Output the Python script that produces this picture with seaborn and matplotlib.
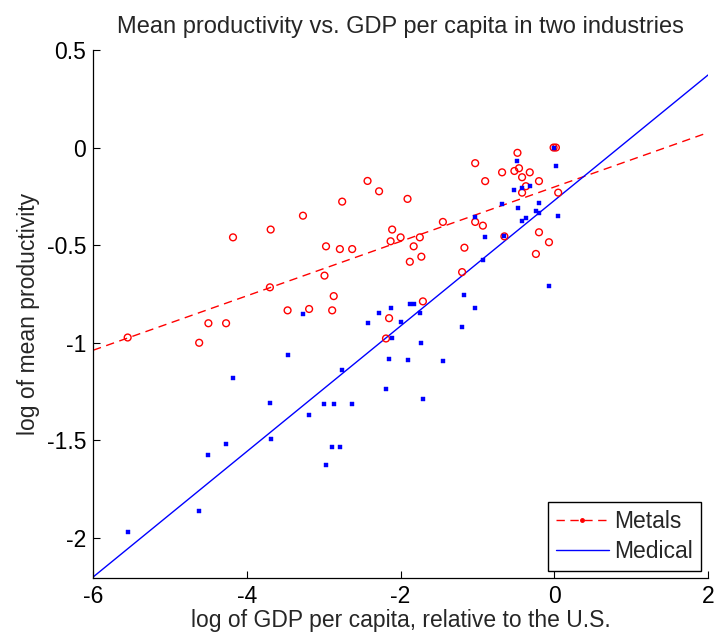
import numpy as np
import pandas as pd
import matplotlib
matplotlib.use("Agg")
import matplotlib.pyplot as plt
from matplotlib.lines import Line2D
import seaborn as sns

# log GDP per capita (relative to the U.S.) and log mean productivity, by industry
metals_x = [-5.55, -4.62, -4.50, -4.27, -4.18, -3.70, -3.69, -3.47, -3.27, -3.19,
            -2.99, -2.97, -2.89, -2.87, -2.79, -2.76, -2.63, -2.43, -2.28, -2.19,
            -2.15, -2.13, -2.11, -2.00, -1.91, -1.88, -1.83, -1.75, -1.73, -1.71,
            -1.45, -1.20, -1.17, -1.03, -1.03, -0.93, -0.90, -0.68, -0.65, -0.52,
            -0.48, -0.46, -0.42, -0.42, -0.37, -0.32, -0.24, -0.20, -0.20, -0.07,
            -0.01, 0.02, 0.05]
metals_y = [-0.973, -1.000, -0.900, -0.900, -0.460, -0.716, -0.420, -0.834, -0.349, -0.827,
            -0.656, -0.506, -0.834, -0.761, -0.520, -0.277, -0.520, -0.171, -0.224, -0.978,
            -0.874, -0.480, -0.420, -0.460, -0.263, -0.585, -0.506, -0.460, -0.559, -0.788,
            -0.381, -0.638, -0.513, -0.080, -0.381, -0.400, -0.172, -0.127, -0.455, -0.120,
            -0.027, -0.106, -0.152, -0.231, -0.198, -0.127, -0.545, -0.172, -0.434, -0.485,
            0.000, 0.000, -0.231]

medical_x = [-5.55, -4.62, -4.50, -4.27, -4.18, -3.70, -3.69, -3.47, -3.27, -3.19,
             -2.99, -2.97, -2.89, -2.87, -2.79, -2.76, -2.63, -2.43, -2.28, -2.19,
             -2.15, -2.13, -2.11, -2.00, -1.91, -1.88, -1.83, -1.75, -1.73, -1.71,
             -1.45, -1.20, -1.17, -1.03, -1.03, -0.93, -0.90, -0.68, -0.65, -0.52,
             -0.48, -0.47, -0.42, -0.42, -0.37, -0.32, -0.24, -0.20, -0.20, -0.07,
             0.00, 0.02, 0.05]
medical_y = [-1.970, -1.863, -1.576, -1.516, -1.181, -1.306, -1.495, -1.063, -0.853, -1.371,
             -1.313, -1.627, -1.535, -1.313, -1.535, -1.142, -1.313, -0.900, -0.846, -1.239,
             -1.084, -0.821, -0.978, -0.892, -1.090, -0.800, -0.800, -0.846, -1.003, -1.287,
             -1.095, -0.920, -0.754, -0.356, -0.821, -0.578, -0.460, -0.290, -0.455, -0.217,
             -0.067, -0.309, -0.205, -0.374, -0.362, -0.198, -0.323, -0.284, -0.337, -0.709,
             0.000, -0.092, -0.349]

# fitted lines: (slope, intercept)
metals_fit = (0.1394, -0.202)
medical_fit = (0.3215, -0.271)

series_names = ["Metals", "Medical"]
x_ticks = [-6, -4, -2, 0, 2]
y_ticks = [-2, -1.5, -1, -0.5, 0, 0.5]
x_range = (-6, 2)
y_range = (-2.205, 0.5)

FS = 16.5

sns.set_style("white")
plt.rcParams["font.family"] = ["Liberation Sans", "DejaVu Sans"]

fig = plt.figure(figsize=(7.16, 6.37), dpi=100)
ax = fig.add_axes([0.130, 0.0926, 0.859, 0.829])

metals = pd.DataFrame({"x": metals_x, "y": metals_y})
medical = pd.DataFrame({"x": medical_x, "y": medical_y})

sns.scatterplot(data=metals, x="x", y="y", ax=ax, marker="o", s=24,
                facecolors="none", edgecolor="#ff0000", linewidth=1.0, zorder=3)
sns.scatterplot(data=medical, x="x", y="y", ax=ax, marker="s", s=7,
                color="#0000ff", edgecolor="#0000ff", linewidth=0.3, zorder=3)

line_x = np.linspace(x_range[0], x_range[1], 2)
fits = pd.DataFrame({
    "x": np.concatenate([line_x, line_x]),
    "y": np.concatenate([metals_fit[0] * line_x + metals_fit[1],
                         medical_fit[0] * line_x + medical_fit[1]]),
    "series": [series_names[0]] * 2 + [series_names[1]] * 2,
})
sns.lineplot(data=fits[fits.series == "Metals"], x="x", y="y", ax=ax,
             color="#ff0000", linewidth=1.0, legend=False,
             linestyle=(0, (6, 4)), zorder=2)
sns.lineplot(data=fits[fits.series == "Medical"], x="x", y="y", ax=ax,
             color="#0000ff", linewidth=1.0, legend=False, zorder=2)

ax.set_xlim(*x_range)
ax.set_ylim(*y_range)
ax.set_xticks(x_ticks)
ax.set_xticklabels([f"{t:g}" for t in x_ticks])
ax.set_yticks(y_ticks)
ax.set_yticklabels([f"{t:g}" for t in y_ticks])
ax.tick_params(direction="in", length=5, width=0.8, labelsize=FS,
               bottom=True, left=True, colors="black", pad=5)
for side in ["top", "right"]:
    ax.spines[side].set_visible(False)
for side in ["left", "bottom"]:
    ax.spines[side].set_color("black")
    ax.spines[side].set_linewidth(0.9)

ax.set_xlabel("log of GDP per capita, relative to the U.S.", fontsize=FS, labelpad=1)
ax.set_ylabel("log of mean productivity", fontsize=FS, labelpad=5)
ax.set_title("Mean productivity vs. GDP per capita in two industries",
             fontsize=17, pad=12)

handles = [
    Line2D([], [], color="#ff0000", linewidth=1.0, linestyle=(0, (6, 4)),
           marker=".", markersize=5, markevery=[1]),
    Line2D([], [], color="#0000ff", linewidth=1.0),
]
leg = ax.legend(handles, series_names, loc="lower right", fontsize=FS,
                frameon=True, fancybox=False, framealpha=1, edgecolor="black",
                borderpad=0.35, handlelength=2.3, handletextpad=0.25,
                labelspacing=0.3, borderaxespad=0.3)
leg.get_frame().set_linewidth(1.0)

fig.savefig("out.png", dpi=100)
